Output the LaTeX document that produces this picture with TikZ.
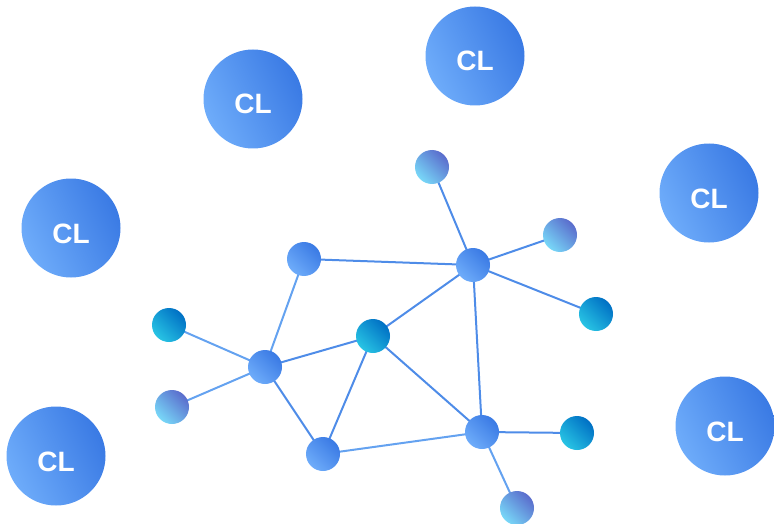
\documentclass[tikz,border=0pt]{standalone}
\usepackage{fontspec}
\setsansfont{Liberation Sans}
\usepackage{tikz}
\usetikzlibrary{shapes}

\definecolor{bluelight}{RGB}{110,172,250}
\definecolor{bluedark}{RGB}{58,122,228}
\definecolor{teallight}{RGB}{40,196,228}
\definecolor{tealdark}{RGB}{0,112,196}
\definecolor{purplelight}{RGB}{120,216,248}
\definecolor{purpledark}{RGB}{90,108,204}
\definecolor{linkblue}{RGB}{78,140,232}
\definecolor{linklight}{RGB}{100,162,240}

\tikzset{
  clnode/.style={circle, minimum size=74.25pt, inner sep=0pt, left color=bluelight, right color=bluedark, shading angle=115, text=white, text height=22.5pt, text depth=0pt, font=\sffamily\bfseries\fontsize{21}{21}\selectfont},
  bluenode/.style={circle, minimum size=25.5pt, inner sep=0pt, left color=bluelight, right color=bluedark, shading angle=135},
  tealnode/.style={circle, minimum size=25.5pt, inner sep=0pt, left color=teallight, right color=tealdark, shading angle=135},
  purplenode/.style={circle, minimum size=25.5pt, inner sep=0pt, left color=purplelight, right color=purpledark, shading angle=135},
  link/.style={draw=linkblue, line width=1.5pt},
  linklt/.style={draw=linklight, line width=1.5pt}
}

\begin{document}
\begin{tikzpicture}[x=0.75pt,y=0.75pt,yscale=-1,xscale=1]
\useasboundingbox (0,0) rectangle (774,524);

% Links
\coordinate (chub) at (473,265);
\coordinate (cnb) at (304,259);
\coordinate (cnc) at (373,336);
\coordinate (cnd) at (265,367);
\coordinate (cne) at (323,454);
\coordinate (cnf) at (482,432);
\coordinate (cpt) at (432,167);
\coordinate (cpr) at (560,235);
\coordinate (ctr) at (596,314);
\coordinate (ctl) at (169,325);
\coordinate (cpl) at (172,407);
\coordinate (ctb) at (577,433);
\coordinate (cpb) at (517,508);

\draw [link] (chub) -- (cpt);
\draw [link] (chub) -- (cpr);
\draw [link] (chub) -- (ctr);
\draw [link] (chub) -- (cnb);
\draw [link] (chub) -- (cnc);
\draw [link] (chub) -- (cnf);
\draw [linklt] (cnb) -- (cnd);
\draw [linklt] (cnd) -- (ctl);
\draw [linklt] (cnd) -- (cpl);
\draw [link] (cnd) -- (cnc);
\draw [link] (cnd) -- (cne);
\draw [link] (cnc) -- (cne);
\draw [link] (cnc) -- (cnf);
\draw [linklt] (cne) -- (cnf);
\draw [link] (cnf) -- (ctb);
\draw [linklt] (cnf) -- (cpb);

% Network nodes
\node [bluenode] (hub) at (chub) {};
\node [bluenode] (nb) at (cnb) {};
\node [tealnode] (nc) at (cnc) {};
\node [bluenode] (nd) at (cnd) {};
\node [bluenode] (ne) at (cne) {};
\node [bluenode] (nf) at (cnf) {};
\node [purplenode] (pt) at (cpt) {};
\node [purplenode] (pr) at (cpr) {};
\node [tealnode] (tr) at (ctr) {};
\node [tealnode] (tl) at (ctl) {};
\node [purplenode] (pl) at (cpl) {};
\node [tealnode] (tb) at (ctb) {};
\node [purplenode] (pb) at (cpb) {};

% CL circles
\node [clnode] (cla) at (253,99) {CL};
\node [clnode] (clb) at (475,56) {CL};
\node [clnode] (clc) at (71,228) {CL};
\node [clnode] (cld) at (709,193) {CL};
\node [clnode] (cle) at (56,456) {CL};
\node [clnode] (clf) at (725,426) {CL};

\end{tikzpicture}
\end{document}
